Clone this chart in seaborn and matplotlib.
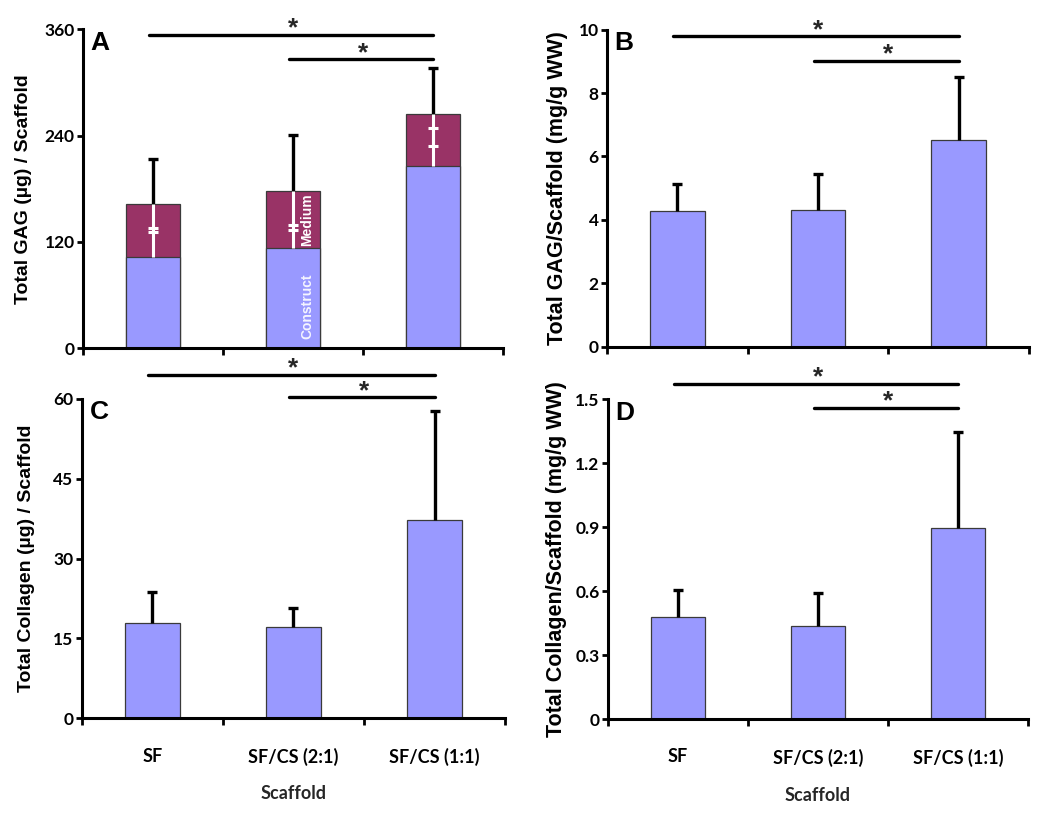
import matplotlib.pyplot as plt
import seaborn as sns
import numpy as np

sns.set_theme(style="ticks")
plt.rcParams["font.family"] = ["Liberation Sans", "DejaVu Sans"]

# Gruppen
scaffolds = ["SF", "SF/CS (2:1)", "SF/CS (1:1)"]

# A: GAG pro Scaffold (µg), aufgeteilt in Konstrukt und Medium
gag_construct = [103, 113, 206]
gag_medium = [60, 64, 58]
gag_construct_sd = [33, 26, 43]
gag_medium_sd = [32, 44, 36]
gag_total_sd = [50, 64, 52]

# B: GAG (mg/g WW)
gag_ww = [4.28, 4.31, 6.52]
gag_ww_sd = [0.85, 1.15, 2.0]

# C: Kollagen pro Scaffold (µg)
col_total = [17.9, 17.2, 37.2]
col_total_sd = [5.8, 3.6, 20.6]

# D: Kollagen (mg/g WW)
col_ww = [0.48, 0.435, 0.895]
col_ww_sd = [0.125, 0.158, 0.452]

# Signifikanz-Balken: (von, bis, Höhe)
sig_a = [(0, 2, 354), (1, 2, 326)]
sig_b = [(0, 2, 9.79), (1, 2, 9.02)]
sig_c = [(0, 2, 64.5), (1, 2, 60.3)]
sig_d = [(0, 2, 1.57), (1, 2, 1.457)]

# Achsenbeschriftungen
ticks_a = [0, 120, 240, 360]
ticks_b = [0, 2, 4, 6, 8, 10]
ticks_c = [0, 15, 30, 45, 60]
ticks_d = [0, 0.3, 0.6, 0.9, 1.2, 1.5]
labels_d = ["0", "0.3", "0.6", "0.9", "1.2", "1.5"]

BLUE = "#9999FF"
MAROON = "#993366"
EDGE = "#3a3a3a"
TICKFONT = dict(family="Lato", weight="bold")


def one_sided_err(ax, y, err, up=True, color="black", lw=2.4):
    # nur eine Seite des Fehlerbalkens, Kappe nur am Ende
    zeros = np.zeros(len(y))
    yerr = [zeros, err] if up else [err, zeros]
    eb = ax.errorbar(range(len(y)), y, yerr=yerr, fmt="none", ecolor=color,
                     elinewidth=lw, capsize=3.5, capthick=lw, zorder=5)
    lower, upper = eb[1]
    (lower if up else upper).set_visible(False)


def style_axes(ax, ticks, ticklabels, ylabel, ylab_x, letter, sigs, show_x):
    ax.set_xlim(-0.5, 2.5)
    ax.set_ylim(ticks[0], ticks[-1])
    for s in ["top", "right"]:
        ax.spines[s].set_visible(False)
    for s in ["left", "bottom"]:
        ax.spines[s].set_linewidth(2.2)
        ax.spines[s].set_color("black")
    ax.set_yticks(ticks)
    ax.set_yticklabels(ticklabels, fontsize=12.5, **TICKFONT)
    ax.tick_params(axis="y", direction="out", length=4, width=2, pad=2, colors="black")
    ax.set_xticks([-0.5, 0.5, 1.5, 2.5])
    ax.set_xticklabels([])
    ax.tick_params(axis="x", which="major", direction="out", length=5, width=2, colors="black")
    ax.set_xticks([0, 1, 2], minor=True)
    if show_x:
        ax.set_xticklabels(scaffolds, minor=True, fontsize=13, **TICKFONT)
        ax.set_xlabel("Scaffold", fontsize=13, **TICKFONT)
        ax.xaxis.set_label_coords(0.5, -0.21)
    else:
        ax.set_xticklabels([], minor=True)
    ax.tick_params(axis="x", which="minor", length=0, pad=21, colors="black")
    ax.set_ylabel(ylabel[0], fontsize=ylabel[1], fontweight="bold", color="black")
    ax.yaxis.set_label_coords(ylab_x, 0.5)
    ax.text(0.018, 0.995, letter, transform=ax.transAxes, ha="left", va="top",
            fontsize=19, fontweight="bold", color="black")
    for i, j, h in sigs:
        ax.plot([i - 0.03, j], [h, h], color="black", lw=2.4, clip_on=False)
        ax.annotate("*", xy=((i + j) / 2, h), xytext=(0, -4), textcoords="offset points",
                    ha="center", va="bottom", fontsize=19, fontweight="bold",
                    annotation_clip=False)


def simple_bars(ax, values, sd):
    sns.barplot(x=scaffolds, y=values, color=BLUE, saturation=1, width=0.39,
                edgecolor=EDGE, linewidth=0.9, errorbar=None, ax=ax)
    one_sided_err(ax, values, sd)


fig = plt.figure(figsize=(10.5, 8.15), dpi=100)
ax_a = fig.add_axes([0.079, 0.573, 0.400, 0.391])
ax_b = fig.add_axes([0.578, 0.5746, 0.402, 0.389])
ax_c = fig.add_axes([0.078, 0.1186, 0.403, 0.392])
ax_d = fig.add_axes([0.579, 0.1174, 0.400, 0.393])

# Panel A: gestapelte Balken
gag_total = np.add(gag_construct, gag_medium)
sns.barplot(x=scaffolds, y=gag_total, color=MAROON, saturation=1, width=0.39,
            edgecolor=EDGE, linewidth=0.9, errorbar=None, ax=ax_a)
sns.barplot(x=scaffolds, y=gag_construct, color=BLUE, saturation=1, width=0.39,
            edgecolor=EDGE, linewidth=0.9, errorbar=None, ax=ax_a)
one_sided_err(ax_a, gag_total, gag_total_sd)
one_sided_err(ax_a, gag_construct, gag_construct_sd, color="white", lw=2.2)
one_sided_err(ax_a, gag_total, gag_medium_sd, up=False, color="white", lw=2.2)
ax_a.text(1.1, gag_construct[1] + gag_medium[1] / 2, "Medium", rotation=90, color="white",
          ha="center", va="center", fontsize=10, fontweight="bold", zorder=6)
ax_a.text(1.1, 10, "Construct", rotation=90, color="white", alpha=0.9,
          ha="center", va="bottom", fontsize=10, fontweight="bold", zorder=6)
style_axes(ax_a, ticks_a, [str(t) for t in ticks_a], ("Total GAG (µg) / Scaffold", 14),
           -0.121, "A", sig_a, False)

simple_bars(ax_b, gag_ww, gag_ww_sd)
style_axes(ax_b, ticks_b, [str(t) for t in ticks_b], ("Total GAG/Scaffold (mg/g WW)", 15.5),
           -0.092, "B", sig_b, False)

simple_bars(ax_c, col_total, col_total_sd)
style_axes(ax_c, ticks_c, [str(t) for t in ticks_c], ("Total Collagen (µg) / Scaffold", 14),
           -0.111, "C", sig_c, True)

simple_bars(ax_d, col_ww, col_ww_sd)
style_axes(ax_d, ticks_d, labels_d, ("Total Collagen/Scaffold (mg/g WW)", 15.5),
           -0.098, "D", sig_d, True)

fig.savefig("out.png", dpi=100)
plt.close(fig)
